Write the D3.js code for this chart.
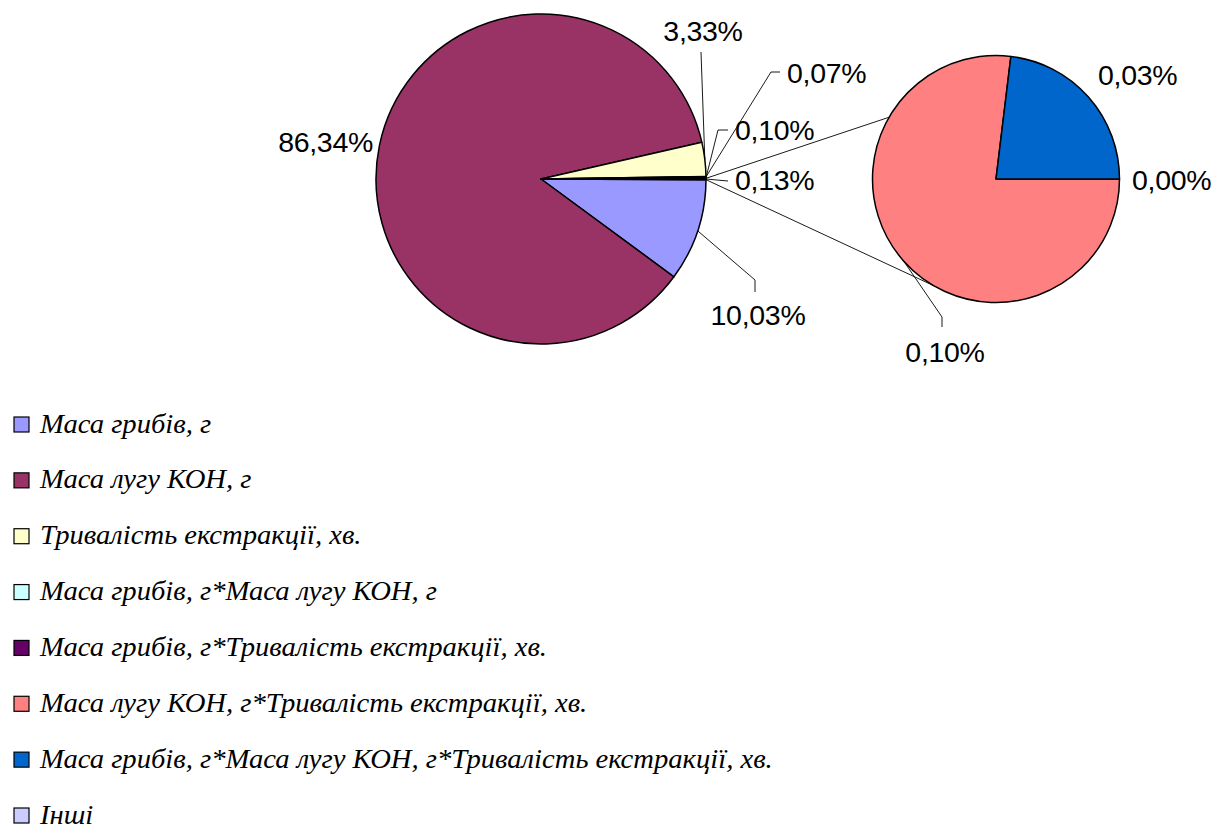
<!DOCTYPE html>
<html>
<head>
<meta charset="utf-8">
<script src="https://cdn.jsdelivr.net/npm/d3@7"></script>
<style>
  html, body { margin: 0; padding: 0; background: #fff; }
  svg { display: block; }
</style>
</head>
<body>
<svg id="chart" width="1215" height="830"></svg>
<script>
// Factor names (the last one is unnamed and not listed in the legend)
const categories = [
  "Маса грибів, г",
  "Маса лугу КОН, г",
  "Тривалість екстракції, хв.",
  "Маса грибів, г*Маса лугу КОН, г",
  "Маса грибів, г*Тривалість екстракції, хв.",
  "Маса лугу КОН, г*Тривалість екстракції, хв.",
  "Маса грибів, г*Маса лугу КОН, г*Тривалість екстракції, хв.",
  ""
];
// Share of each factor, %
const shares = [10.03, 86.34, 3.33, 0.07, 0.10, 0.10, 0.03, 0.00];
// Slice colours, one per factor
const colors = ["#9999FF", "#993366", "#FFFFCC", "#CCFFFF", "#660066", "#FF8080", "#0066CC", "#FFFFFF"];
// The last N factors are split out into the secondary pie
const secondaryCount = 3;
const otherName = "Інші";
const otherColor = "#CCCCFF";

// Label placement (relative to each pie centre) and leader elbows
const mainLabelSpots = [
  { x: 217, y: 146, anchor: "middle", leader: [[214, 101], [214, 113]] },
  { x: -168, y: -27, anchor: "end", leader: null },
  { x: 162, y: -138, anchor: "middle", leader: [[160, -127]] },
  { x: 246, y: -96, anchor: "start", leader: [[230, -107], [239, -107]] },
  { x: 194, y: -39, anchor: "start", leader: [[177, -49], [187, -49]] },
  { x: 194, y: 11, anchor: "start", leader: [[187, 2]] }
];
const secondaryLabelSpots = [
  { x: -51, y: 183, anchor: "middle", leader: [[-54, 138], [-54, 148]] },
  { x: 102, y: -94, anchor: "start", leader: null },
  { x: 136, y: 11, anchor: "start", leader: null }
];

const svg = d3.select("#chart");
const pct = d3.formatLocale({ decimal: ",", thousands: " ", grouping: [3], currency: ["", ""] }).format(".2f");

const nMain = categories.length - secondaryCount;
const mainData = categories.slice(0, nMain).map((c, i) => ({ name: c, value: shares[i], color: colors[i] }));
const secData = categories.slice(nMain).map((c, i) => ({ name: c, value: shares[nMain + i], color: colors[nMain + i] }));
const otherValue = d3.sum(secData, d => d.value);
mainData.push({ name: otherName, value: otherValue, color: otherColor });

const main = { cx: 541, cy: 179, r: 165 };
const sec = { cx: 996, cy: 179, r: 123.5 };

// Main pie: the aggregated slice is centred on 3 o'clock
const totalMain = d3.sum(mainData, d => d.value);
const otherHalf = (otherValue / totalMain) * Math.PI;
const mainStart = Math.PI / 2 + otherHalf;
const mainArcs = d3.pie().sort(null).value(d => d.value)
  .startAngle(mainStart).endAngle(mainStart + 2 * Math.PI)(mainData);

// Secondary pie starts at 3 o'clock
const secArcs = d3.pie().sort(null).value(d => d.value)
  .startAngle(Math.PI / 2).endAngle(Math.PI / 2 + 2 * Math.PI)(secData);

const pointAt = (p, a, r) => [p.cx + r * Math.sin(a), p.cy - r * Math.cos(a)];

function drawPie(p, arcs, cls) {
  const g = svg.append("g").attr("class", cls).attr("transform", `translate(${p.cx},${p.cy})`);
  g.selectAll("path").data(arcs.filter(a => a.value > 0)).join("path")
    .attr("d", d3.arc().innerRadius(0).outerRadius(p.r))
    .attr("fill", d => d.data.color)
    .attr("stroke", "#000")
    .attr("stroke-width", 1.5)
    .attr("stroke-linejoin", "round");
}
drawPie(main, mainArcs, "main-pie");
drawPie(sec, secArcs, "secondary-pie");

// Connector lines between the aggregated slice and the secondary pie
const other = mainArcs[mainArcs.length - 1];
const connectors = [
  [pointAt(main, other.startAngle, main.r), pointAt(sec, 2 * Math.PI - Math.PI / 3, sec.r)],
  [pointAt(main, other.endAngle, main.r), pointAt(sec, Math.PI + Math.PI / 6, sec.r)]
];
svg.append("g").selectAll("line").data(connectors).join("line")
  .attr("x1", d => d[0][0]).attr("y1", d => d[0][1])
  .attr("x2", d => d[1][0]).attr("y2", d => d[1][1])
  .attr("stroke", "#000").attr("stroke-width", 0.9);

function drawLabels(p, arcs, spots) {
  const g = svg.append("g").attr("transform", `translate(${p.cx},${p.cy})`);
  arcs.forEach((a, i) => {
    const s = spots[i];
    if (s.leader) {
      const mid = (a.startAngle + a.endAngle) / 2;
      const edge = [p.r * Math.sin(mid), -p.r * Math.cos(mid)];
      g.append("path")
        .attr("d", d3.line()([edge, ...s.leader]))
        .attr("fill", "none").attr("stroke", "#000").attr("stroke-width", 0.9);
    }
    g.append("text")
      .attr("x", s.x).attr("y", s.y)
      .attr("text-anchor", s.anchor)
      .attr("font-family", "'Liberation Sans', Arial, sans-serif")
      .attr("font-size", 28.5)
      .attr("letter-spacing", -0.3)
      .attr("fill", "#000")
      .text(pct(a.value) + "%");
  });
}
drawLabels(main, mainArcs, mainLabelSpots);
drawLabels(sec, secArcs, secondaryLabelSpots);

// Legend
const legendItems = categories.map((c, i) => ({ name: c, color: colors[i] }))
  .filter(d => d.name !== "")
  .concat([{ name: otherName, color: otherColor }]);
const legendY = d3.scalePoint().domain(d3.range(legendItems.length)).range([432.5, 823.5]);
const lg = svg.append("g").attr("class", "legend");
const rows = lg.selectAll("g").data(legendItems).join("g")
  .attr("transform", (d, i) => `translate(0,${legendY(i)})`);
rows.append("rect")
  .attr("x", 14).attr("y", -15.5).attr("width", 15).attr("height", 15)
  .attr("fill", d => d.color).attr("stroke", "#000").attr("stroke-width", 1.2);
rows.append("text")
  .attr("transform", "translate(40,0) scale(1.08,1)")
  .attr("font-family", "'Liberation Serif', 'Times New Roman', serif")
  .attr("font-style", "italic")
  .attr("font-size", 26.5)
  .attr("fill", "#000")
  .text(d => d.name);
</script>
</body>
</html>
